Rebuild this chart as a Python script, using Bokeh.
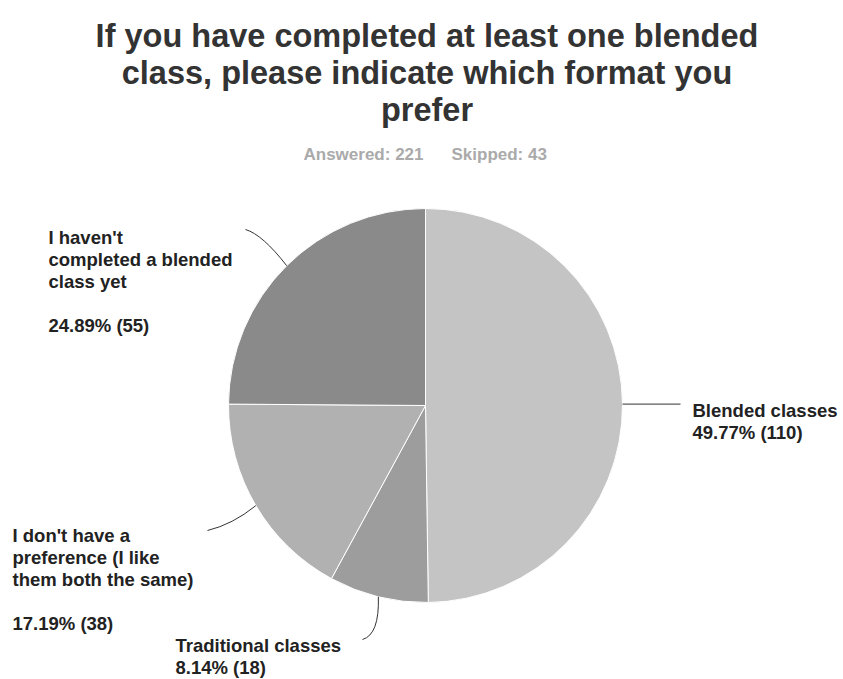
import numpy as np
from bokeh.plotting import figure
from bokeh.models import Range1d
from bokeh.core.properties import value
from bokeh.embed import file_html
from bokeh.resources import INLINE

# ---- data ----
categories = [
    "Blended classes",
    "Traditional classes",
    "I don't have a preference (I like them both the same)",
    "I haven't completed a blended class yet",
]
counts = [110, 18, 38, 55]
answered = 221
skipped = 43
title_lines = [
    "If you have completed at least one blended",
    "class, please indicate which format you",
    "prefer",
]

# ---- styling / layout ----
W, H = 843, 679
colors = ["#c4c4c4", "#9d9d9d", "#b1b1b1", "#8a8a8a"]
FONT = value("Liberation Sans")

# wrapped label text for each slice
label_wrap = [
    ["Blended classes"],
    ["Traditional classes"],
    ["I don't have a", "preference (I like", "them both the same)"],
    ["I haven't", "completed a blended", "class yet"],
]
# label placement: left x, first baseline (page px), blank line before value?
label_pos = [
    (692, 410, False),
    (175, 645, False),
    (12, 535, True),
    (48, 237, True),
]
# leader line end points and curve controls (page px)
leader_end = [(680, None), (362, 639), (207, 530), (245, 229)]
leader_ctrl = [None, (379, 634), (232, 524), (262, 234)]

CX, CY, R = 425, 405, 197  # pie centre / radius in page px
LH = 22  # label line height


def Y(py):
    return H - py


p = figure(width=W, height=H, output_backend="svg", toolbar_location=None,
           x_range=Range1d(0, W), y_range=Range1d(0, H),
           min_border=0, outline_line_color=None)
p.axis.visible = False
p.grid.visible = False
p.background_fill_color = "white"
p.border_fill_color = "white"

total = sum(counts)
fracs = np.array(counts) / total
cum = np.concatenate([[0.0], np.cumsum(fracs)])
start = np.pi / 2 - 2 * np.pi * cum[:-1]
end = np.pi / 2 - 2 * np.pi * cum[1:]

p.wedge(x=CX, y=Y(CY), radius=R, start_angle=list(start), end_angle=list(end),
        direction="clock", fill_color=colors, line_color="white", line_width=1)

# leader lines from each slice's mid-angle on the rim
mid = np.pi / 2 - 2 * np.pi * (cum[:-1] + fracs / 2)
for i in range(len(counts)):
    sx = CX + R * np.cos(mid[i])
    sy = CY - R * np.sin(mid[i])
    ex, ey = leader_end[i]
    if ey is None:
        ey = sy
    if leader_ctrl[i] is None:
        p.segment(x0=[sx], y0=[Y(sy)], x1=[ex], y1=[Y(ey)],
                  line_color="#333333", line_width=1)
    else:
        qx, qy = leader_ctrl[i]
        p.quadratic(x0=[sx], y0=[Y(sy)], x1=[ex], y1=[Y(ey)],
                    cx=[qx], cy=[Y(qy)], line_color="#333333", line_width=1)

# slice labels
for i, c in enumerate(counts):
    lx, base, gap = label_pos[i]
    lines = list(label_wrap[i])
    if gap:
        lines.append("")
    lines.append(f"{100 * c / total:.2f}% ({c})")
    xs, ys, ts = [], [], []
    for j, t in enumerate(lines):
        if t:
            xs.append(lx)
            ys.append(Y(base + j * LH))
            ts.append(t)
    p.text(x=xs, y=ys, text=ts, text_font=FONT, text_font_style="bold",
           text_font_size="18.5px", text_color="#222222",
           text_baseline="alphabetic", text_align="left")

# title
p.text(x=[W / 2 + 5] * 3, y=[Y(35), Y(72), Y(109)], text=title_lines,
       text_font=FONT, text_font_style="bold", text_font_size="32.5px",
       text_color="#333333", text_align="center", text_baseline="alphabetic")

# response summary
p.text(x=[303, 451], y=[Y(154), Y(154)],
       text=[f"Answered: {answered}", f"Skipped: {skipped}"],
       text_font=FONT, text_font_style="bold", text_font_size="17px",
       text_color="#aaaaaa", text_align="left", text_baseline="alphabetic")

open("out.html", "w").write(file_html(p, INLINE))
